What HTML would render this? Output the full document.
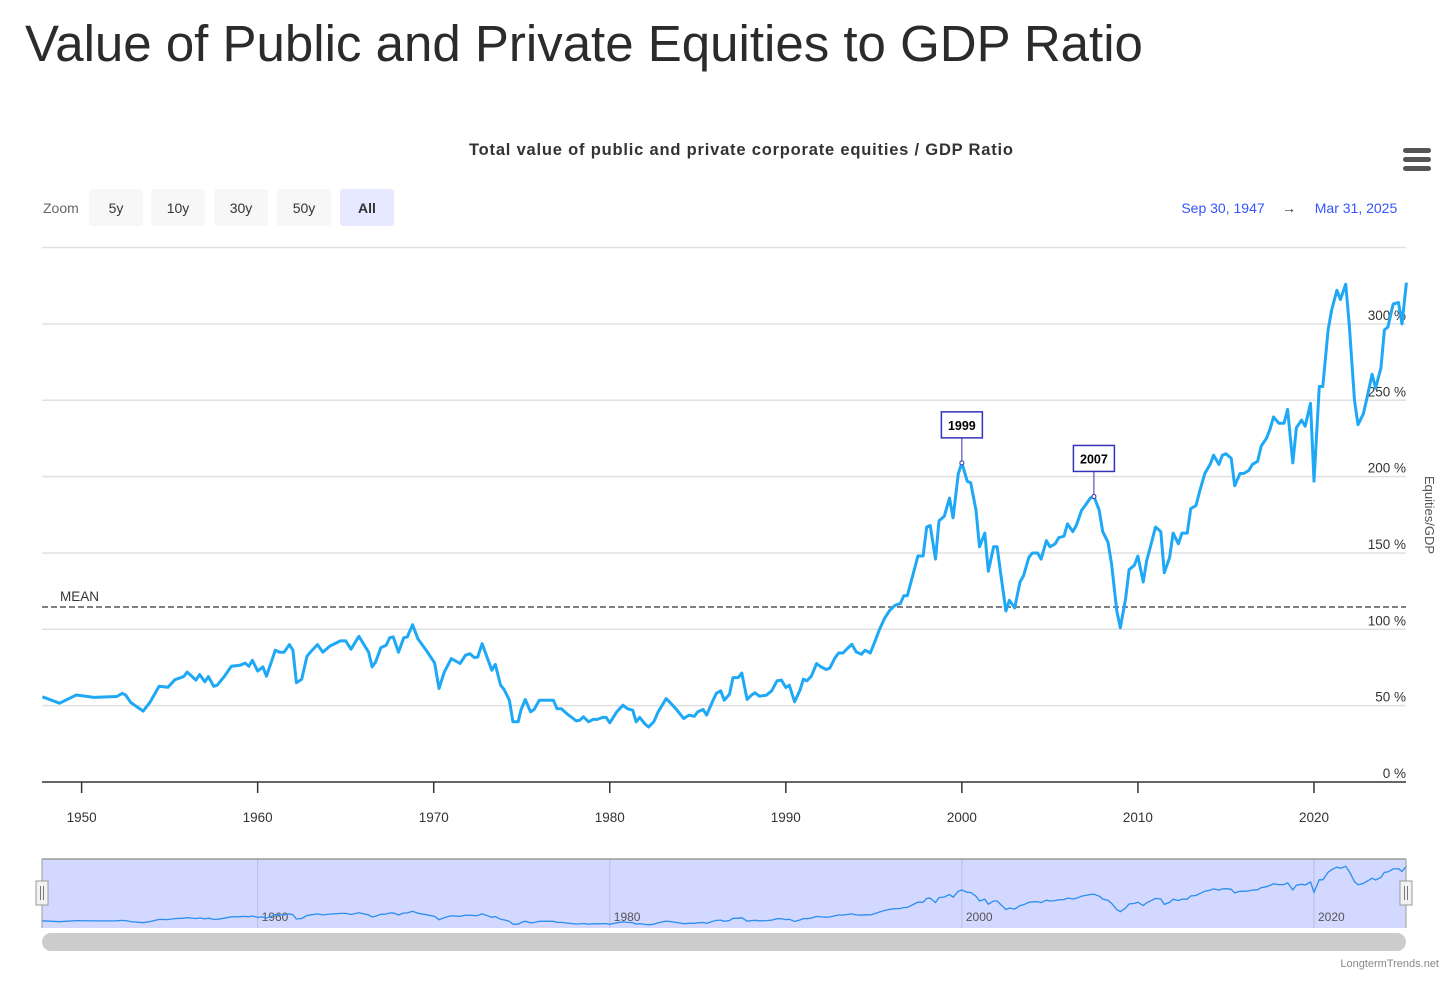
<!DOCTYPE html>
<html><head><meta charset="utf-8"><style>
body{margin:0;background:#fff;width:1456px;height:984px;overflow:hidden;font-family:"Liberation Sans",sans-serif;}
#title{position:absolute;left:25px;top:14px;font-size:51px;color:#2b2b2b;margin:0;font-weight:normal;white-space:nowrap;}
svg{position:absolute;left:0;top:0;}
</style></head><body>
<h1 id="title">Value of Public and Private Equities to GDP Ratio</h1>
<svg id="chart" width="1456" height="984" font-family="Liberation Sans, sans-serif"></svg>
<script>
const years=[1947.77,1948.75,1949.7,1950.7,1952.0,1952.3,1952.5,1952.8,1953.5,1953.9,1954.4,1954.9,1955.3,1955.8,1956.0,1956.5,1956.7,1957.0,1957.2,1957.5,1957.7,1958.1,1958.5,1959.0,1959.3,1959.5,1959.7,1960.0,1960.3,1960.5,1961.0,1961.25,1961.5,1961.8,1962.0,1962.2,1962.5,1962.8,1963.05,1963.4,1963.7,1964.1,1964.7,1965.0,1965.3,1965.75,1966.3,1966.5,1966.7,1967.0,1967.3,1967.5,1967.7,1968.0,1968.3,1968.5,1968.8,1969.1,1969.6,1970.05,1970.3,1970.6,1971.0,1971.5,1971.8,1972.05,1972.3,1972.5,1972.75,1973.3,1973.5,1973.8,1974.0,1974.3,1974.5,1974.8,1974.95,1975.2,1975.5,1975.7,1976.0,1976.4,1976.8,1977.0,1977.25,1977.6,1978.1,1978.3,1978.5,1978.8,1979.05,1979.3,1979.6,1979.8,1980.0,1980.4,1980.75,1981.0,1981.3,1981.5,1981.7,1982.0,1982.2,1982.5,1982.75,1983.2,1983.4,1983.75,1984.2,1984.5,1984.8,1985.0,1985.3,1985.5,1985.8,1986.05,1986.3,1986.5,1986.8,1987.0,1987.3,1987.5,1987.8,1988.05,1988.25,1988.5,1988.9,1989.2,1989.5,1989.75,1990.0,1990.2,1990.5,1990.8,1991.0,1991.2,1991.45,1991.75,1992.0,1992.3,1992.5,1992.8,1993.0,1993.25,1993.5,1993.75,1994.0,1994.3,1994.5,1994.8,1995.05,1995.3,1995.6,1995.9,1996.2,1996.5,1996.7,1996.9,1997.3,1997.5,1997.8,1998.0,1998.2,1998.5,1998.7,1999.0,1999.3,1999.5,1999.8,2000.0,2000.3,2000.5,2000.8,2001.0,2001.3,2001.5,2001.8,2002.0,2002.2,2002.5,2002.7,2003.0,2003.3,2003.5,2003.8,2004.0,2004.3,2004.5,2004.8,2005.0,2005.3,2005.5,2005.8,2006.0,2006.3,2006.5,2006.8,2007.0,2007.3,2007.5,2007.8,2008.0,2008.3,2008.5,2008.8,2009.0,2009.3,2009.5,2009.8,2010.0,2010.3,2010.5,2010.8,2011.0,2011.3,2011.5,2011.8,2012.0,2012.3,2012.5,2012.8,2013.0,2013.3,2013.5,2013.8,2014.1,2014.3,2014.6,2014.8,2015.0,2015.3,2015.5,2015.8,2016.0,2016.3,2016.5,2016.8,2017.0,2017.3,2017.5,2017.7,2018.0,2018.3,2018.5,2018.8,2019.0,2019.3,2019.5,2019.8,2020.0,2020.3,2020.5,2020.8,2021.0,2021.3,2021.5,2021.8,2022.0,2022.3,2022.5,2022.8,2023.0,2023.3,2023.5,2023.8,2024.0,2024.2,2024.5,2024.8,2025.0,2025.25];
const values=[55.8,51.6,57,55.4,56,58,57,52,46.4,52.5,62.7,62,67,69,72,66.7,70.4,65.6,69,62.7,63.4,69,75.8,76.5,77.8,75.8,79.7,72.6,75.4,69.3,86.3,85,85,90,86.3,65,67.3,82.4,85.8,90,85,89,92.4,92.4,87,95.4,85,75.4,78.6,88,89.5,94.5,95,85,94.5,95,103,93.8,85.8,78,61.2,72,80.8,77.6,83,84,81.5,81.8,90.6,73.2,77,63.4,60.6,53.6,39.4,39.4,47,54,46,47.5,53.6,53.6,53.6,48,48,44.4,40,40.5,42.7,39.4,41,41,42.3,42.3,38.8,46,50.3,48,47,39.4,42.3,38,36,39.4,46,54.6,52.4,48,41.6,43.8,43,46,47.5,43.8,51.8,58,59.7,53.6,57.5,68.4,68.4,71.3,54,56.9,58.4,56.2,56.9,59.7,66.2,66.7,61.9,63.4,52.5,60,67.3,66.2,69.3,77.6,75.4,73.7,74.6,81.4,84.5,84.5,87.4,90.2,85.2,83.7,86.3,84.5,91.6,99.3,107,112.4,115.7,116.8,122,122,139,148,148,167,168,146,171,174,186,173,202,209,197,196,178,154,163,138,154,154,137,112,119,114,131,135,147,150,150,146,158,154,156,160,161,169,164,168,178,181,186,187,178,164,157,143,112,101,120,139,142,148,131,145,158,167,164,137,147,163,156,163,163,179,181,190,202,208,214,208,214,215,212,194,202,202,204,208,210,220,225,231,239,235,235,244,209,232,237,233,248,197,259,259,296,309,322,316,326,300,250,234,241,251,267,258,271,296,298,313,314,300,327];
const yTicks=[0,50,100,150,200,250,300];
const xTicks=[1950,1960,1970,1980,1990,2000,2010,2020];
const navTicks=[1960,1980,2000,2020];
const zoomLabels=["5y","10y","30y","50y","All"];
const meanValue=114.6;
const annotations=[{year:2000.0,value:209,label:"1999"},{year:2007.5,value:187,label:"2007"}];

const NS="http://www.w3.org/2000/svg";
const svg=document.getElementById('chart');
const X0=42,X1=1406.4,Y0=782;
const x=y=>X0+(y-1947.75)*(X1-X0)/(2025.25-1947.75);
const y=v=>Y0-v*1.527;
const ny=v=>921-(v-55)*0.202;
function el(t,a,p){const e=document.createElementNS(NS,t);for(const k in a)e.setAttribute(k,a[k]);(p||svg).appendChild(e);return e;}
function tx(s,a,p){const e=el('text',a,p);e.textContent=s;return e;}

let t=tx("Total value of public and private corporate equities / GDP Ratio",{x:741,y:155,'text-anchor':'middle','font-size':16.5,'font-weight':'bold',fill:'#333',textLength:544,lengthAdjust:'spacing'});


const menu=el('g',{});

[148,157,166].forEach(yy=>el('rect',{x:1403,y:yy,width:28,height:5,rx:2.5,fill:'#555'},menu));

t=tx("Zoom",{x:43,y:213,'font-size':14,fill:'#666'});

const bx=[89,151,214,277,340];
zoomLabels.forEach((l,i)=>{
  const g=el('g',{});
  
  
  const sel=l==="All";
  el('rect',{x:bx[i],y:189,width:54,height:37,rx:3,fill:sel?'#e6e9ff':'#f7f7f7'},g);
  tx(l,{x:bx[i]+27,y:213,'text-anchor':'middle','font-size':14,fill:'#333','font-weight':sel?'bold':'normal'},g);
});
t=tx("Sep 30, 1947",{x:1223,y:213,'text-anchor':'middle','font-size':14,fill:'#3355ff'});

t=tx("→",{x:1289,y:213,'text-anchor':'middle','font-size':14,fill:'#333'});

t=tx("Mar 31, 2025",{x:1356,y:213,'text-anchor':'middle','font-size':14,fill:'#3355ff'});


[...yTicks,350].forEach(v=>{
  if(v===0)return;
  const l=el('line',{x1:X0,x2:1406,y1:y(v),y2:y(v),stroke:'#e0e0e0','stroke-width':1.5});
  
});
yTicks.forEach(v=>{
  const e=tx(v+" %",{x:1406,y:y(v)-4,'text-anchor':'end','font-size':13.5,fill:'#333'});
  
});
t=tx("Equities/GDP",{x:0,y:0,'text-anchor':'middle','font-size':13,fill:'#555',transform:'translate(1425,515) rotate(90)'});

const ax=el('line',{x1:X0,x2:1406,y1:Y0,y2:Y0,stroke:'#333','stroke-width':1.5});

xTicks.forEach(yr=>{
  const l=el('line',{x1:x(yr),x2:x(yr),y1:Y0,y2:Y0+11,stroke:'#333','stroke-width':1.5});
  
  const e=tx(String(yr),{x:x(yr),y:822,'text-anchor':'middle','font-size':13.5,fill:'#333'});
  
});
const ml=el('line',{x1:X0,x2:1406,y1:y(meanValue),y2:y(meanValue),stroke:'#808080','stroke-width':2,'stroke-dasharray':'6,3'});

t=tx("MEAN",{x:60,y:y(meanValue)-6,'font-size':13.5,fill:'#333'});


const pts=years.map((yr,i)=>x(yr).toFixed(1)+','+y(values[i]).toFixed(1)).join(' ');
const ln=el('polyline',{points:pts,fill:'none',stroke:'#1ea8f5','stroke-width':3,'stroke-linejoin':'round'});


annotations.forEach(a=>{
  const g=el('g',{});
  
  
  const px=x(a.year),py=y(a.value);
  el('line',{x1:px,x2:px,y1:py,y2:py-25,stroke:'#3333aa','stroke-width':1},g);
  el('circle',{cx:px,cy:py,r:2,fill:'#fff',stroke:'#3333aa'},g);
  el('rect',{x:px-20.5,y:py-51,width:41,height:26,fill:'#fff',stroke:'#3333bb','stroke-width':1.5},g);
  tx(a.label,{x:px,y:py-33,'text-anchor':'middle','font-size':12.5,'font-weight':'bold',fill:'#000'},g);
});

const nav=el('g',{});

el('rect',{x:42,y:859,width:1364,height:69,fill:'#d2d8ff'},nav);
navTicks.forEach(yr=>{
  el('line',{x1:x(yr),x2:x(yr),y1:859,y2:928,stroke:'#b8bde0','stroke-width':1},nav);
  tx(String(yr),{x:x(yr)+4,y:921,'font-size':12,fill:'#555'},nav);
});
el('polyline',{points:years.map((yr,i)=>x(yr).toFixed(1)+','+ny(values[i]).toFixed(1)).join(' '),fill:'none',stroke:'#2a8ef0','stroke-width':1.3},nav);
el('line',{x1:42,x2:1406,y1:859,y2:859,stroke:'#999','stroke-width':1.5},nav);
el('line',{x1:42,x2:42,y1:859,y2:928,stroke:'#999','stroke-width':1},nav);
el('line',{x1:1406,x2:1406,y1:859,y2:928,stroke:'#999','stroke-width':1},nav);
[42,1406].forEach((hx,i)=>{
  const h=el('g',{});
  
  
  el('rect',{x:hx-6,y:881,width:12,height:24,fill:'#f2f2f2',stroke:'#999'},h);
  el('line',{x1:hx-1.5,x2:hx-1.5,y1:886,y2:900,stroke:'#777'},h);
  el('line',{x1:hx+1.5,x2:hx+1.5,y1:886,y2:900,stroke:'#777'},h);
});
const sb=el('rect',{x:42,y:933,width:1364,height:18,rx:9,fill:'#cccccc'});

t=tx("LongtermTrends.net",{x:1439,y:967,'text-anchor':'end','font-size':11,fill:'#888'});

</script>
</body></html>
